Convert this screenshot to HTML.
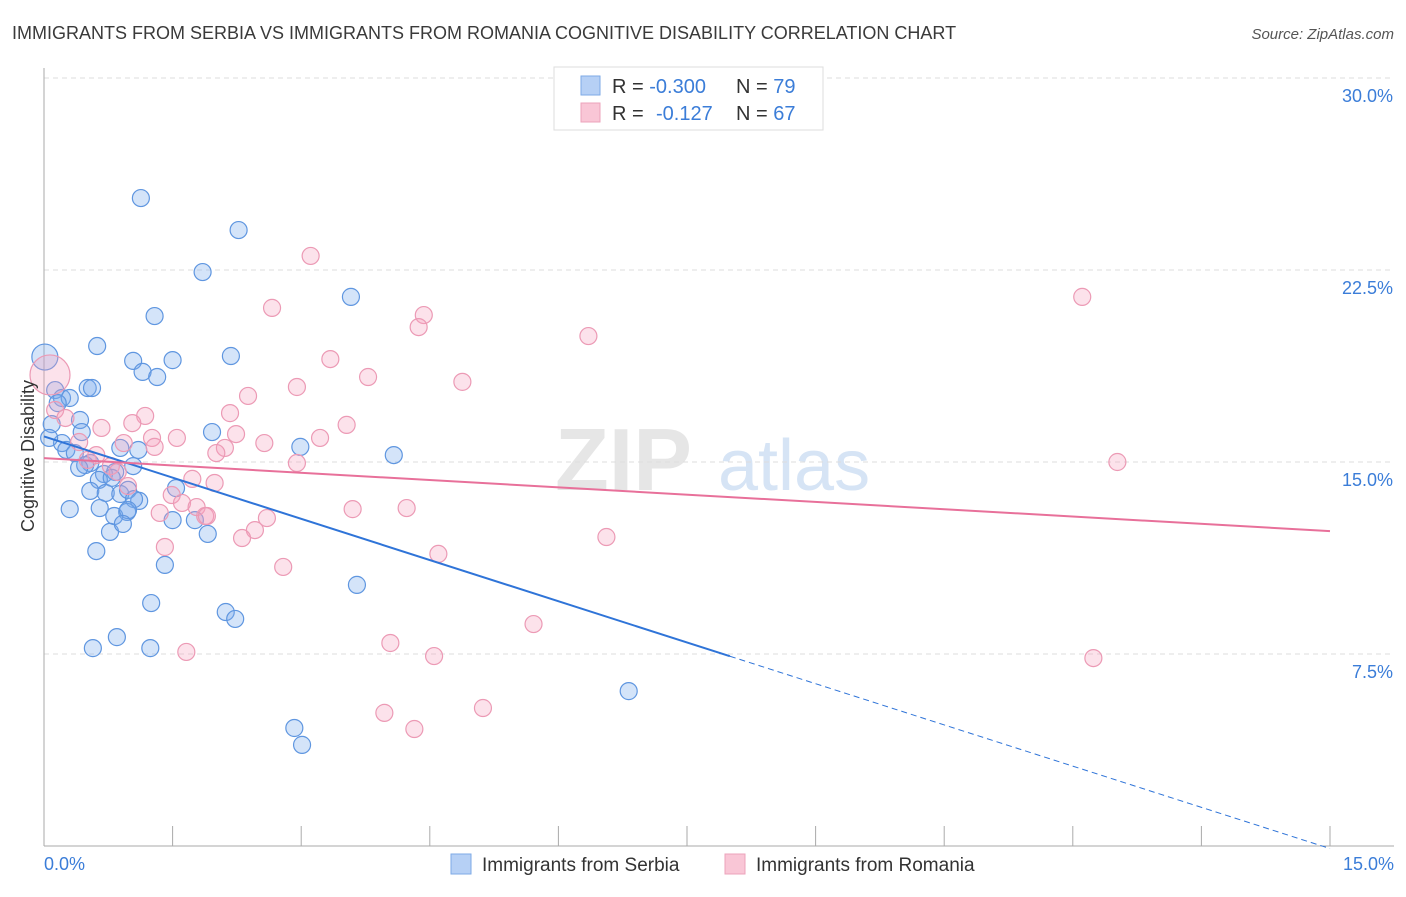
<!DOCTYPE html>
<html><head><meta charset="utf-8"><style>
body{margin:0;background:#fff;font-family:"Liberation Sans",sans-serif;}
svg text{font-family:"Liberation Sans",sans-serif;}
</style></head><body>
<svg id="chart" width="1406" height="892" xmlns="http://www.w3.org/2000/svg">
<text x="12" y="39" font-size="18" fill="#3a3a3a">IMMIGRANTS FROM SERBIA VS IMMIGRANTS FROM ROMANIA COGNITIVE DISABILITY CORRELATION CHART</text>
<text x="1394" y="39" font-size="15" fill="#555" text-anchor="end" font-style="italic">Source: ZipAtlas.com</text>
<g>
<text x="555" y="490" font-size="88" fill="#e6e6e6" font-family="Liberation Serif" font-weight="bold">ZIP</text>
<text x="718" y="490" font-size="72" fill="#d6e4f5">atlas</text>
</g>
<g id="grid"></g>
<g id="axes"></g>
<g id="marks"></g>
<text transform="translate(34,456) rotate(-90)" font-size="18" fill="#333" text-anchor="middle">Cognitive Disability</text>
<text x="44" y="870" font-size="18" fill="#3b7dd8">0.0%</text>
<text x="1394" y="870" font-size="18" fill="#3b7dd8" text-anchor="end">15.0%</text>
<g>
<rect x="554" y="67" width="269" height="63" fill="#fff" stroke="#ddd"/>
<rect x="581" y="76" width="19" height="19" fill="#b6d0f5" stroke="#7eaae6"/>
<rect x="581" y="103" width="19" height="19" fill="#f9c6d6" stroke="#eca3bb"/>
<text x="612" y="93" font-size="20" fill="#333">R = <tspan fill="#3b7dd8">-0.300</tspan><tspan x="736">N = </tspan><tspan fill="#3b7dd8">79</tspan></text>
<text x="612" y="120" font-size="20" fill="#333">R = <tspan x="656" fill="#3b7dd8">-0.127</tspan><tspan x="736">N = </tspan><tspan fill="#3b7dd8">67</tspan></text>
</g>
<g>
<rect x="451" y="854" width="20" height="20" fill="#b6d0f5" stroke="#7eaae6"/>
<text x="482" y="871" font-size="19" fill="#333">Immigrants from Serbia</text>
<rect x="725" y="854" width="20" height="20" fill="#f9c6d6" stroke="#eca3bb"/>
<text x="756" y="871" font-size="19" fill="#333">Immigrants from Romania</text>
</g>
</svg>
<script>
const yTicks=[7.5,15,22.5,30];
const yTickLabels=["7.5%","15.0%","22.5%","30.0%"];
const xTicks=[0,1.5,3,4.5,6,7.5,9,10.5,12,13.5,15];
const serbiaX=[1.13,2.27,1.85,3.58,1.29,0.62,0.01,1.04,1.50,2.18,1.15,1.32,0.13,0.51,0.56,0.21,0.30,0.16,0.42,0.09,0.44,1.96,0.21,0.26,0.36,2.99,4.08,0.89,1.10,0.54,0.48,0.41,1.04,0.70,0.83,0.64,0.79,0.54,0.72,0.89,0.98,1.11,1.05,1.54,0.30,0.65,0.97,0.82,0.98,1.50,1.76,0.77,0.92,1.91,0.61,1.41,3.65,1.25,2.12,2.23,0.85,0.57,1.24,6.82,2.92,3.01,0.06];
const serbiaY=[25.31,24.06,22.42,21.45,20.70,19.53,19.10,18.95,18.98,19.14,18.52,18.32,17.81,17.89,17.89,17.50,17.50,17.30,16.64,16.48,16.17,16.17,15.74,15.47,15.35,15.59,15.27,15.55,15.47,14.96,14.88,14.77,14.84,14.53,14.61,14.30,14.38,13.87,13.79,13.75,13.91,13.48,13.55,13.98,13.16,13.20,13.05,12.89,13.12,12.73,12.73,12.27,12.58,12.19,11.52,10.98,10.20,9.49,9.14,8.87,8.16,7.73,7.73,6.05,4.61,3.95,15.94];
const romaniaX=[3.11,2.66,12.11,4.43,4.37,6.35,3.34,0.07,3.78,4.88,2.95,2.38,0.13,0.25,1.18,2.17,1.03,3.53,0.67,2.24,1.55,1.26,3.22,0.93,2.57,0.41,1.29,2.11,2.01,0.61,0.51,2.95,12.52,0.78,0.86,1.73,0.98,1.99,1.49,1.61,1.78,3.60,4.23,1.35,1.88,2.60,1.90,2.46,2.31,6.56,1.41,4.60,2.79,5.71,4.04,4.55,1.66,12.24,5.12,3.97,4.32];
const romaniaY=[23.05,21.02,21.45,20.74,20.27,19.92,19.02,18.40,18.32,18.13,17.93,17.58,17.03,16.72,16.80,16.91,16.52,16.45,16.33,16.09,15.94,15.94,15.94,15.74,15.74,15.78,15.59,15.55,15.35,15.27,15.08,14.96,15.00,14.84,14.61,14.34,14.06,14.18,13.71,13.40,13.24,13.16,13.20,13.01,12.89,12.81,12.89,12.34,12.03,12.07,11.68,11.41,10.90,8.67,7.93,7.42,7.58,7.34,5.39,5.20,4.57];
const serbiaTrend=[16.0,-0.1];
const romaniaTrend=[15.15,12.3];
const serbiaSolidEnd=8.0;
const NS="http://www.w3.org/2000/svg";
const X0=44,X1=1330,YB=846;
const sx=v=>X0+(X1-X0)*v/15;
const sy=v=>YB-v*192/7.5;
function mk(tag,attrs,parent){const e=document.createElementNS(NS,tag);for(const k in attrs)e.setAttribute(k,attrs[k]);document.getElementById(parent).appendChild(e);return e;}
yTicks.forEach((t,i)=>{
 const g=mk('line',{x1:44,x2:1394,y1:sy(t),y2:sy(t),stroke:'#ddd','stroke-dasharray':'5,4'},'grid');
 
 
 const l=mk('text',{x:1393,y:sy(t)+24,'font-size':18,fill:'#3b7dd8','text-anchor':'end'},'grid');
 l.textContent=yTickLabels[i];
 
 
});
const ya=mk('line',{x1:44,x2:44,y1:68,y2:846,stroke:'#aaa'},'axes');


const xa=mk('line',{x1:44,x2:1394,y1:846,y2:846,stroke:'#aaa'},'axes');


xTicks.forEach(t=>{
 const tk=mk('line',{x1:sx(t),x2:sx(t),y1:826,y2:846,stroke:'#aaa'},'axes');
 
 
});
serbiaX.forEach((x,i)=>{
 const big=(x<0.05&&serbiaY[i]>18.5);
 const c=mk('circle',{cx:sx(x),cy:sy(serbiaY[i]),r:big?13:8.5,fill:'rgba(120,170,235,0.32)',stroke:'#5f96e0','stroke-width':1.2},'marks');
 
 
});
romaniaX.forEach((x,i)=>{
 const big=(x<0.1&&romaniaY[i]>18);
 const c=mk('circle',{cx:sx(x),cy:sy(romaniaY[i]),r:big?20:8.5,fill:'rgba(245,160,190,0.3)',stroke:'#ec9ab5','stroke-width':1.2},'marks');
 
 
});
const bv=x=>serbiaTrend[0]+(serbiaTrend[1]-serbiaTrend[0])*x/15;
const t1=mk('line',{x1:sx(0),y1:sy(bv(0)),x2:sx(serbiaSolidEnd),y2:sy(bv(serbiaSolidEnd)),stroke:'#2f74d8','stroke-width':2},'marks');


const t2=mk('line',{x1:sx(serbiaSolidEnd),y1:sy(bv(serbiaSolidEnd)),x2:sx(15),y2:sy(bv(15)),stroke:'#2f74d8','stroke-width':1,'stroke-dasharray':'6,4'},'marks');


const t3=mk('line',{x1:sx(0),y1:sy(romaniaTrend[0]),x2:sx(15),y2:sy(romaniaTrend[1]),stroke:'#e8709a','stroke-width':2},'marks');


</script>
</body></html>
